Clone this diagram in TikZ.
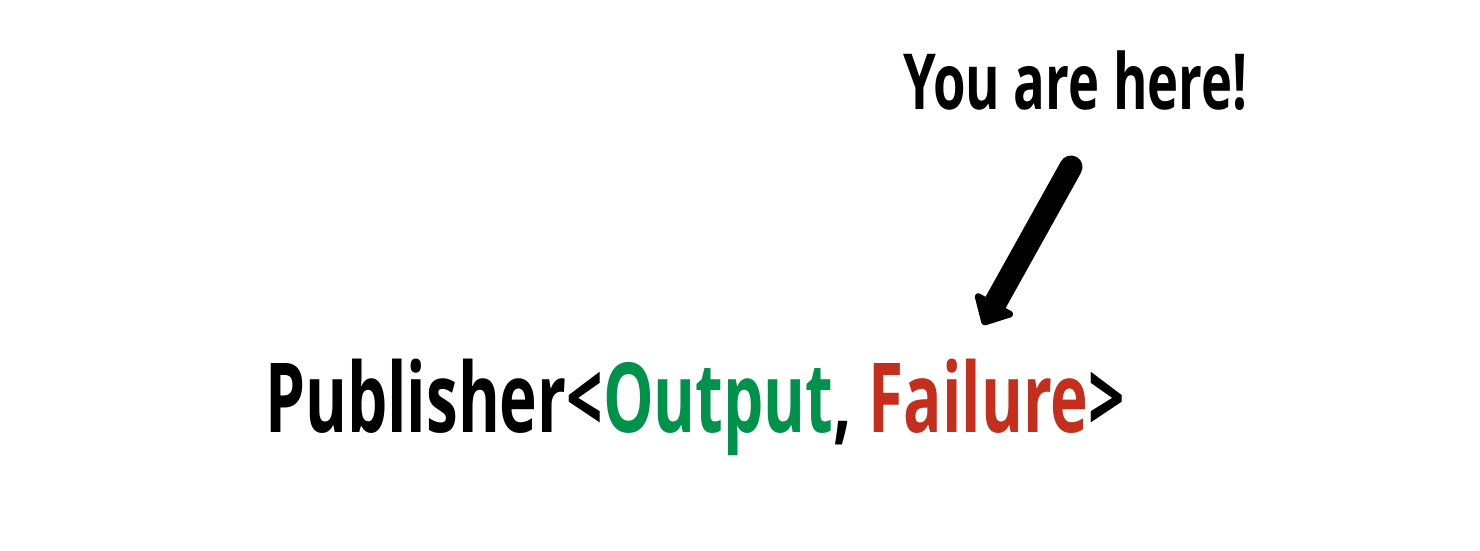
\documentclass[tikz,border=0pt]{standalone}
\usepackage{fontspec}
\setmainfont{Open Sans}
\usetikzlibrary{arrows.meta}
\definecolor{outgreen}{HTML}{00924A}
\definecolor{failred}{HTML}{C42E1C}
\tikzset{
  hand/.style={inner sep=0pt, outer sep=0pt, text=black},
  pointer/.style={line width=0.46cm, line cap=round, black,
    -{Triangle[length=0.55cm, width=1.0cm, round]}}
}
\begin{document}
\begin{tikzpicture}
\useasboundingbox (0,0) rectangle (29.6,11);
\node[hand, anchor=base west] (sig) at (5.3,2.36)
  {\resizebox{17.2cm}{\height}{\fontsize{55}{55}\bfseries\selectfont Publisher<\textcolor{outgreen}{Output}, \textcolor{failred}{Failure}>}};
\node[hand, anchor=base west] (here) at (18.06,8.8)
  {\resizebox{6.9cm}{\height}{\fontsize{44}{44}\bfseries\selectfont You are here!}};
\coordinate (from) at (21.42,7.66);
\coordinate (to) at (19.66,4.5);
\draw[pointer] (from) -- (to);
\end{tikzpicture}
\end{document}
